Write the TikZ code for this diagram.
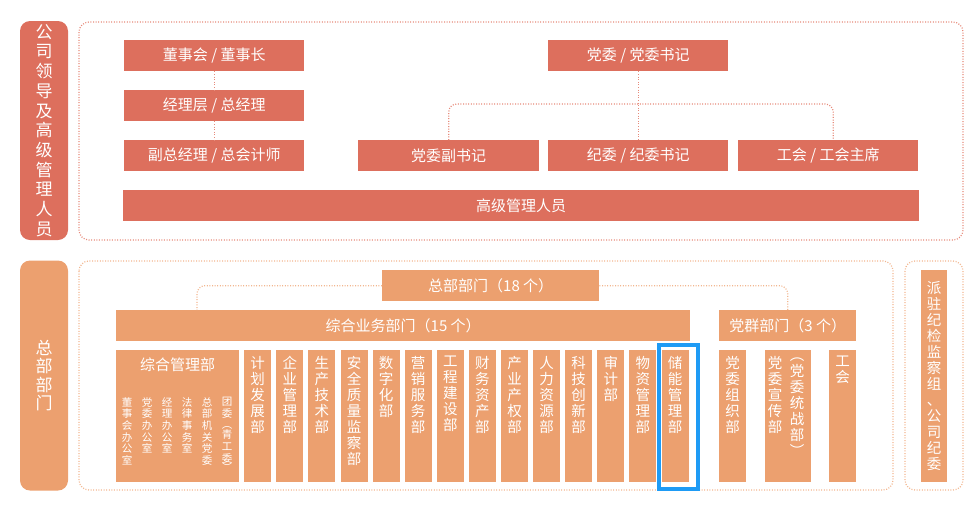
\documentclass[tikz,border=0pt]{standalone}
\usepackage{fontspec}
\setmainfont{Noto Sans CJK SC}
\definecolor{topred}{HTML}{DD6F5D}
\definecolor{topdot}{HTML}{E68A7A}
\definecolor{botorg}{HTML}{ECA06F}
\definecolor{botdot}{HTML}{F2B68F}
\definecolor{hiblue}{HTML}{1E9BF5}

\tikzset{
  redbox/.style={fill=topred, text=white, inner sep=0pt, anchor=north west,
    minimum height=31pt, font=\fontsize{15}{18}\selectfont},
  orgbox/.style={fill=botorg, text=white, inner sep=0pt, anchor=north west,
    minimum height=31pt, font=\fontsize{15}{18}\selectfont},
  colbox/.style={fill=botorg, inner sep=0pt, anchor=north west,
    minimum width=27pt, minimum height=132pt},
  coltext/.style={text=white, inner sep=0pt, anchor=north, align=center,
    font=\fontsize{14.5}{16}\selectfont},
  subtext/.style={text=white, inner sep=0pt, anchor=north, align=center,
    font=\fontsize{10.5}{11.7}\selectfont},
  pill/.style={fill=#1, text=white, rounded corners=10pt, inner sep=0pt,
    minimum width=48pt, align=center},
  dotframe/.style={draw=#1, line width=1.2pt, dash pattern=on 1pt off 1.6pt,
    rounded corners=10pt},
  dotlink/.style={draw=#1, line width=1.2pt, dash pattern=on 1pt off 1.6pt,
    rounded corners=8pt},
}

\begin{document}
\begin{tikzpicture}[x=1pt, y=-1pt]
    \useasboundingbox (0,0) rectangle (979,504);
    % Company leaders
    \node[pill=topred, minimum height=219pt, font=\fontsize{17}{19.7}\selectfont]
      (ldp) at (44,130.5) {公\\司\\领\\导\\及\\高\\级\\管\\理\\人\\员};
    \draw[dotframe=topdot] (79,22) rectangle (963,240);
    \node[redbox, minimum width=180pt] (dsh) at (124,40) {董事会 / 董事长};
    \node[redbox, minimum width=180pt] (jlc) at (124,90) {经理层 / 总经理};
    \node[redbox, minimum width=180pt] (fzj) at (124,140) {副总经理 / 总会计师};
    \node[redbox, minimum width=180pt] (dw) at (548,40) {党委 / 党委书记};
    \node[redbox, minimum width=181pt] (dfs) at (358,140) {党委副书记};
    \node[redbox, minimum width=180pt] (jw) at (548,140) {纪委 / 纪委书记};
    \node[redbox, minimum width=180pt] (ghz) at (738,140) {工会 / 工会主席};
    \node[redbox, minimum width=796pt] (gg) at (123,190) {高级管理人员};
    \draw[dotlink=topdot] (dsh) -- (jlc);
    \draw[dotlink=topdot] (jlc) -- (fzj);
    \draw[dotlink=topdot] (dw) -- (jw);
    \coordinate (dbr) at (638,104);
    \draw[dotlink=topdot] (dfs.north) |- (dbr) -| ([xshift=5pt]ghz.north);

    % Headquarters departments
    \node[pill=botorg, minimum height=230pt, font=\fontsize{17}{18.5}\selectfont]
      (zbp) at (44,375.5) {总\\部\\部\\门};
    \draw[dotframe=botdot] (79,261) rectangle (893,490);
    \draw[dotframe=botdot] (905,261) rectangle (963,490);
    \node[orgbox, minimum width=217pt] (zb) at (382,270) {总部部门（18 个）};
    \node[orgbox, minimum width=574pt] (zhyw) at (116,310) {综合业务部门（15 个）};
    \node[orgbox, minimum width=137pt] (dq) at (719,310) {党群部门（3 个）};
    \coordinate (zl) at (197,310);
    \draw[dotlink=botdot] (zb.west) -| (zl);
    \draw[dotlink=botdot] (zb.east) -| (dq.north);

    % General management with its offices
    \node[colbox, minimum width=123pt] (zhgl) at (116,350) {};
    \node[text=white, font=\fontsize{15}{18}\selectfont] (zhgl-t) at (177.5,365) {综合管理部};
    \foreach \t [count=\i from 0] in {{董\\事\\会\\办\\公\\室}, {党\\委\\办\\公\\室},
        {经\\理\\办\\公\\室}, {法\\律\\事\\务\\室}, {总\\部\\机\\关\\党\\委},
        {团\\委\\︵\\[-2pt]青\\工\\委\\[-2pt]︶}}
      \node[subtext] (zs\i) at (127+20*\i,397) {\t};

    % Business departments
    \foreach \n/\t [count=\i from 0] in {jh/{计\\划\\发\\展\\部}, qy/{企\\业\\管\\理\\部},
        sc/{生\\产\\技\\术\\部}, aq/{安\\全\\质\\量\\监\\察\\部}, sz/{数\\字\\化\\部},
        yx/{营\\销\\服\\务\\部}, gc/{工\\程\\建\\设\\部}, cw/{财\\务\\资\\产\\部},
        cy/{产\\业\\产\\权\\部}, rl/{人\\力\\资\\源\\部}, kj/{科\\技\\创\\新\\部},
        sj/{审\\计\\部}, wz/{物\\资\\管\\理\\部}, cn/{储\\能\\管\\理\\部}}
    {
      \node[colbox] (\n) at (244+32.1*\i,350) {};
      \node[coltext] (\n-t) at ([yshift=-6pt]\n.north) {\t};
    }
    \draw[hiblue, line width=4pt] (659,345) rectangle (698,489);

    % Party and mass departments
    \node[colbox] (dz) at (719,350) {};
    \node[coltext] (dz-t) at ([yshift=-6pt]dz.north) {党\\委\\组\\织\\部};
    \node[colbox, minimum width=46pt] (dx) at (765,350) {};
    \node[coltext] (dx-a) at (775,356) {党\\委\\宣\\传\\部};
    \node[coltext] (dx-b) at (797,358) {︵\\党\\委\\统\\战\\部\\︶};
    \node[colbox] (gh) at (829,350) {};
    \node[coltext] (gh-t) at ([yshift=-6pt]gh.north) {工\\会};

    % Discipline inspection group
    \node[colbox, minimum width=26pt, minimum height=212pt] (pz) at (921,270) {};
    \node[coltext] (pz-t) at ([yshift=-11pt]pz.north)
      {派\\驻\\纪\\检\\监\\察\\组\\、\\公\\司\\纪\\委};
\end{tikzpicture}
\end{document}
